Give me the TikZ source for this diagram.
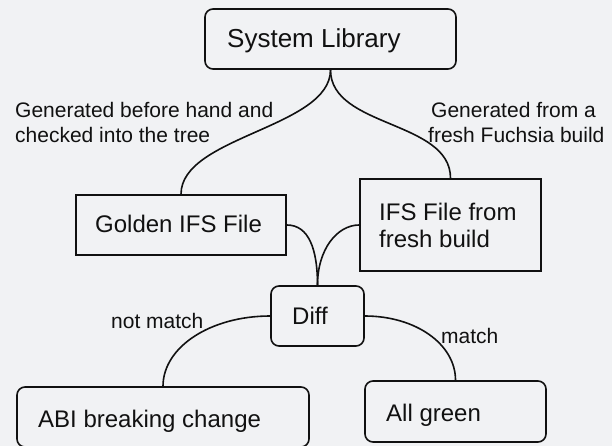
\documentclass[tikz,border=0pt]{standalone}
\usepackage{fontspec}
\setmainfont{Liberation Sans}
\definecolor{canvas}{RGB}{241,242,244}
\definecolor{ink}{RGB}{17,17,17}
\tikzset{
  boxsharp/.style={draw=ink, line width=1.6pt, inner sep=0pt, fill=none},
  boxround/.style={boxsharp, rounded corners=8pt},
  link/.style={draw=ink, line width=1.6pt},
  bigtxt/.style={text=ink, inner sep=0pt, font=\fontsize{26}{30}\selectfont},
  boxtxt/.style={text=ink, inner sep=0pt, font=\fontsize{24}{27}\selectfont},
  edgetxt/.style={text=ink, inner sep=0pt, font=\fontsize{21}{25}\selectfont, align=left},
}
\begin{document}
\begin{tikzpicture}[x=1pt,y=-1pt]
  % canvas
  \fill[canvas] (0,0) rectangle (612,446);
  \useasboundingbox (0,0) rectangle (612,446);

  % boxes
  \node[boxround, minimum width=251pt, minimum height=60pt] (sys)  at (330.5,39) {};
  \node[boxsharp, minimum width=210pt, minimum height=60pt] (gold) at (181,225) {};
  \node[boxsharp, minimum width=181pt, minimum height=92pt] (ifs)  at (450.5,225) {};
  \node[boxround, minimum width=93pt,  minimum height=60pt] (diff) at (317.5,316) {};
  \node[boxround, minimum width=292pt, minimum height=60pt] (abi)  at (163,417) {};
  \node[boxround, minimum width=181pt, minimum height=61pt] (ok)   at (455.5,411.5) {};

  % box texts
  \node[bigtxt, anchor=base west] (sysT)  at (227,48)  {System Library};
  \node[boxtxt, anchor=base west] (goldT) at (95,233)  {Golden IFS File};
  \node[boxtxt, anchor=base west] (ifsA)  at (379,220) {IFS File from};
  \node[boxtxt, anchor=base west] (ifsB)  at (379,247) {fresh build};
  \node[boxtxt, anchor=base west] (diffT) at (292,324) {Diff};
  \node[boxtxt, anchor=base west] (abiT)  at (38,427)  {ABI breaking change};
  \node[boxtxt, anchor=base west] (okT)   at (386,421) {All green};

  % edge labels
  \node[edgetxt, anchor=base west] (lblA1) at (15,118)  {Generated before hand and};
  \node[edgetxt, anchor=base west] (lblA2) at (15,143)  {checked into the tree};
  \node[edgetxt, anchor=base west] (lblB1) at (431,118) {Generated from a};
  \node[edgetxt, anchor=base west] (lblB2) at (428,143) {fresh Fuchsia build};
  \node[edgetxt, anchor=base west] (lblC)  at (111,328) {not match};
  \node[edgetxt, anchor=base west] (lblD)  at (441,343) {match};

  % connectors
  \draw[link] (sys.south) .. controls +(0,58) and +(0,-58) .. (gold.north);
  \draw[link] (sys.south) .. controls +(0,58) and +(0,-58) .. (ifs.north);
  \draw[link] (gold.east) .. controls +(22,0) and +(0,-36) .. (diff.north);
  \draw[link] (ifs.west)  .. controls +(-22,0) and +(0,-36) .. (diff.north);
  \draw[link] (diff.west) .. controls +(-60,0) and +(0,-39) .. (abi.north);
  \draw[link] (diff.east) .. controls +(51,0) and +(0,-36) .. (ok.north);
\end{tikzpicture}
\end{document}
